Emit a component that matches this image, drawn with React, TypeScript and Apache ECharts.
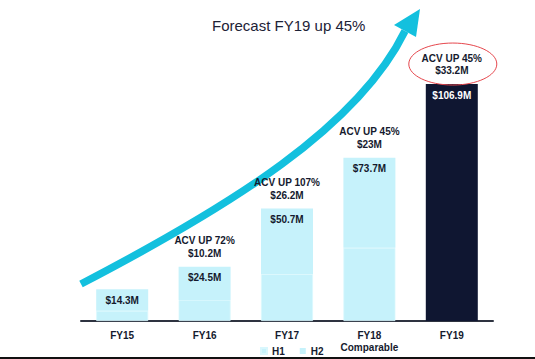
import React, { useEffect, useRef } from "react";
import * as echarts from "echarts";

const categories = ["FY15", "FY16", "FY17", "FY18", "FY19"];
const subLabels = ["", "", "", "Comparable", ""];
const totals = [14.3, 24.5, 50.7, 73.7, 106.9];
const h1Values = [4.6, 9.5, 21.2, 33.0, null];
const h2Values = [9.7, 15.0, 29.5, 40.7, null];
const forecastValues = [null, null, null, null, 106.9];
const acvGrowth = ["", "ACV UP 72%", "ACV UP 107%", "ACV UP 45%", "ACV UP 45%"];
const acvAmounts = ["", "$10.2M", "$26.2M", "$23M", "$33.2M"];
const legendNames = ["H1", "H2"];

const FONT = "'Liberation Sans', Arial, Helvetica, sans-serif";
const LIGHT = "#c6f2fb";
const DARK = "#0f1631";
const TEXT = "#151a2e";
const CYAN = "#13c0de";

export default function App() {
  const ref = useRef<HTMLDivElement>(null);
  useEffect(() => {
    if (!ref.current) return;
    const chart = echarts.init(ref.current, null, { renderer: "svg" });
    const option: any = {
      animation: false,
      backgroundColor: "#ffffff",
      title: {
        text: "Forecast FY19 up 45%",
        left: 207,
        top: 13,
        textStyle: { fontFamily: FONT, fontSize: 15, fontWeight: "normal", color: "#1d2236" },
      },
      legend: {
        data: legendNames,
        left: 260,
        top: 346,
        padding: 0,
        icon: "rect",
        itemWidth: 6,
        itemHeight: 6,
        itemGap: 15,
        textStyle: { fontFamily: FONT, fontSize: 10, fontWeight: "bold", color: TEXT },
      },
      grid: { left: 81, right: 42, top: 55, bottom: 38 },
      xAxis: {
        type: "category",
        data: categories,
        axisLine: { lineStyle: { color: "#2e3340", width: 2 } },
        axisTick: { show: false },
        axisLabel: {
          margin: 8,
          fontFamily: FONT,
          fontSize: 10,
          fontWeight: "bold",
          color: TEXT,
          lineHeight: 12.5,
          formatter: (v: string, i: number) => (subLabels[i] ? v + "\n" + subLabels[i] : v),
        },
      },
      yAxis: { type: "value", min: 0, max: 120, show: false, splitLine: { show: false } },
      series: [
        {
          name: "H1",
          type: "bar",
          stack: "acv",
          barWidth: 52,
          data: h1Values,
          itemStyle: { color: LIGHT, borderColor: "#d9f7fd", borderWidth: 0.8 },
        },
        {
          name: "H2",
          type: "bar",
          stack: "acv",
          barWidth: 52,
          data: h2Values,
          itemStyle: { color: LIGHT },
          label: {
            show: true,
            position: "insideTop",
            distance: 6,
            fontFamily: FONT,
            fontSize: 10,
            fontWeight: "bold",
            color: TEXT,
            formatter: (p: any) => "$" + totals[p.dataIndex] + "M",
          },
        },
        {
          name: "Forecast",
          type: "bar",
          stack: "acv",
          barWidth: 52,
          data: forecastValues,
          itemStyle: { color: DARK },
          label: {
            show: true,
            position: "insideTop",
            distance: 6,
            fontFamily: FONT,
            fontSize: 10,
            fontWeight: "bold",
            color: "#ffffff",
            formatter: (p: any) => "$" + p.value + "M",
          },
        },
        {
          name: "ACV",
          type: "bar",
          stack: "acv",
          barWidth: 52,
          silent: true,
          z: 5,
          data: acvGrowth.map((g) => (g ? 0 : null)),
          itemStyle: { color: "rgba(0,0,0,0)" },
          label: {
            show: true,
            position: "top",
            distance: 7,
            fontFamily: FONT,
            fontSize: 10,
            fontWeight: "bold",
            color: TEXT,
            lineHeight: 12.6,
            formatter: (p: any) => acvGrowth[p.dataIndex] + "\n" + acvAmounts[p.dataIndex],
          },
        },
      ],
    };
    chart.setOption(option);
    const pt = chart.convertToPixel({ gridIndex: 0 }, ["FY19", forecastValues[4]]) as number[];
    chart.setOption({
      graphic: [
        {
          type: "ellipse",
          z: 100,
          silent: true,
          shape: { cx: pt[0] + 1, cy: pt[1] - 20, rx: 44, ry: 21 },
          style: { fill: "none", stroke: "#e6474d", lineWidth: 1 },
        },
        {
          type: "bezierCurve",
          z: 1,
          silent: true,
          shape: { x1: 81, y1: 284, cpx1: 231, cpy1: 206, cpx2: 358, cpy2: 127, x2: 405, y2: 31 },
          style: { fill: "none", stroke: CYAN, lineWidth: 7.5, lineCap: "butt" },
        },
        {
          type: "polygon",
          z: 1,
          silent: true,
          shape: { points: [[420, 9], [394, 25], [416, 37]] },
          style: { fill: CYAN },
        },
        {
          type: "rect",
          z: 100,
          silent: true,
          shape: { x: 0, y: 357, width: 535, height: 2 },
          style: { fill: "#111111" },
        },
      ],
    });
    return () => chart.dispose();
  }, []);
  return (
    <div
      ref={ref}
      style={{ position: "absolute", left: 0, top: 0, width: 535, height: 359 }}
    />
  );
}
